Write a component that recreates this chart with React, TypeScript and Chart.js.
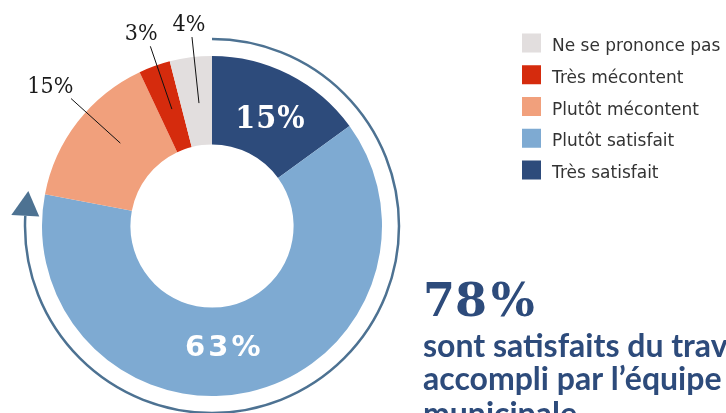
import React, { useEffect, useRef } from "react";
import { Chart, registerables } from "chart.js";

Chart.register(...registerables);

// ---- data ----
const categories = ["Très satisfait", "Plutôt satisfait", "Plutôt mécontent", "Très mécontent", "Ne se prononce pas"];
const values = [15, 63, 15, 3, 4];
const colors = ["#2d4b7b", "#7eaad2", "#f1a07c", "#d52b0d", "#e2dede"];
const valueLabels = ["15%", "63%", "15%", "3%", "4%"];
const labelInside = [true, true, false, false, false];
const satisfiedShare = 78;
const headline = "78 %";
const captionLines = ["sont satisfaits du travail", "accompli par l’équipe", "municipale"];

const DARK = "#2d4b7b";
const ARROW = "#4d7292";

const overlayPlugin = {
  id: "overlay",
  afterDraw(chart: any) {
    const ctx: CanvasRenderingContext2D = chart.ctx;
    const arcs = chart.getDatasetMeta(0).data as any[];
    if (!arcs.length) return;
    const cx = arcs[0].x;
    const cy = arcs[0].y;
    const R = arcs[0].outerRadius;
    const r = arcs[0].innerRadius;
    ctx.save();

    // slice labels
    arcs.forEach((arc: any, i: number) => {
      const frac = labelInside[i] ? 0.53 : 0.58;
      const ang = arc.startAngle + frac * (arc.endAngle - arc.startAngle);
      const dx = Math.cos(ang);
      const dy = Math.sin(ang);
      if (labelInside[i]) {
        const rr = (R + r) / 2 - 4;
        const x = cx + dx * rr;
        const y = cy + dy * rr;
        ctx.fillStyle = "#ffffff";
        ctx.textAlign = "center";
        ctx.textBaseline = "middle";
        if (i === 0) {
          ctx.font = "bold 32px 'DejaVu Serif Condensed', 'DejaVu Serif', serif";
          (ctx as any).letterSpacing = "1px";
        } else {
          ctx.font = "bold 29px 'DejaVu Sans', sans-serif";
          (ctx as any).letterSpacing = "3px";
        }
        ctx.fillText(valueLabels[i], x, y + 1);
        (ctx as any).letterSpacing = "0px";
      } else {
        const r1 = R + 20;
        const r2 = r + 42;
        const sx = cx + dx * r1;
        const sy = cy + dy * r1;
        ctx.strokeStyle = "#111111";
        ctx.lineWidth = 1;
        ctx.beginPath();
        ctx.moveTo(sx, sy);
        ctx.lineTo(cx + dx * r2, cy + dy * r2);
        ctx.stroke();
        ctx.fillStyle = "#1a1a1a";
        ctx.font = "23px 'DejaVu Serif Condensed', 'DejaVu Serif', serif";
        ctx.textAlign = "center";
        ctx.textBaseline = "alphabetic";
        ctx.fillText(valueLabels[i], sx + dx * 28, sy - 6);
      }
    });

    // arrow ring showing satisfied share
    const ringR = R + 17;
    const start = -Math.PI / 2;
    const end = start + (2 * Math.PI * satisfiedShare) / 100;
    const headLen = 25;
    const halfW = 14;
    const baseAng = end - headLen / ringR;
    ctx.strokeStyle = ARROW;
    ctx.lineWidth = 2.5;
    ctx.beginPath();
    ctx.arc(cx, cy, ringR, start, baseAng);
    ctx.stroke();
    const tx = cx + Math.cos(end) * ringR;
    const ty = cy + Math.sin(end) * ringR;
    const bx = cx + Math.cos(baseAng) * ringR;
    const by = cy + Math.sin(baseAng) * ringR;
    const nx = Math.cos(baseAng);
    const ny = Math.sin(baseAng);
    ctx.fillStyle = ARROW;
    ctx.beginPath();
    ctx.moveTo(tx, ty);
    ctx.lineTo(bx + nx * halfW, by + ny * halfW);
    ctx.lineTo(bx - nx * halfW, by - ny * halfW);
    ctx.closePath();
    ctx.fill();

    // legend (reverse order)
    const legX = 522;
    const legY0 = 43;
    const legStep = 31.75;
    const order = categories.map((_, i) => i).reverse();
    order.forEach((idx, row) => {
      const yc = legY0 + row * legStep;
      ctx.fillStyle = colors[idx];
      ctx.fillRect(legX, yc - 9.5, 19, 19);
      ctx.fillStyle = "#333333";
      ctx.font = "17px 'DejaVu Sans', sans-serif";
      ctx.textAlign = "left";
      ctx.textBaseline = "alphabetic";
      ctx.fillText(categories[idx], legX + 30, yc + 8);
    });

    // headline
    ctx.fillStyle = DARK;
    ctx.textAlign = "left";
    ctx.textBaseline = "alphabetic";
    ctx.font = "bold 46px 'DejaVu Serif', serif";
    (ctx as any).wordSpacing = "-12px";
    ctx.fillText(headline, 423, 316);
    (ctx as any).wordSpacing = "0px";
    ctx.font = "bold 32px Lato, sans-serif";
    captionLines.forEach((line, i) => {
      ctx.fillText(line, 423, 357 + i * 33 + (i === 2 ? 2 : 0));
    });

    ctx.restore();
  },
};

export default function App() {
  const ref = useRef<HTMLCanvasElement | null>(null);
  useEffect(() => {
    if (!ref.current) return;
    const chart = new Chart(ref.current, {
      type: "doughnut",
      data: {
        labels: categories,
        datasets: [
          {
            data: values,
            backgroundColor: colors,
            borderWidth: 0,
          },
        ],
      },
      options: {
        responsive: false,
        animation: false,
        devicePixelRatio: 1,
        cutout: "48%",
        layout: { padding: { left: 42, top: 56, right: 344, bottom: 17 } },
        plugins: {
          legend: { display: false },
          tooltip: { enabled: false },
        },
      },
      plugins: [overlayPlugin],
    });
    return () => chart.destroy();
  }, []);
  return (
    <div style={{ position: "absolute", left: 0, top: 0, width: 726, height: 413, background: "#fff" }}>
      <canvas ref={ref} width={726} height={413} style={{ display: "block", width: 726, height: 413 }} />
    </div>
  );
}
